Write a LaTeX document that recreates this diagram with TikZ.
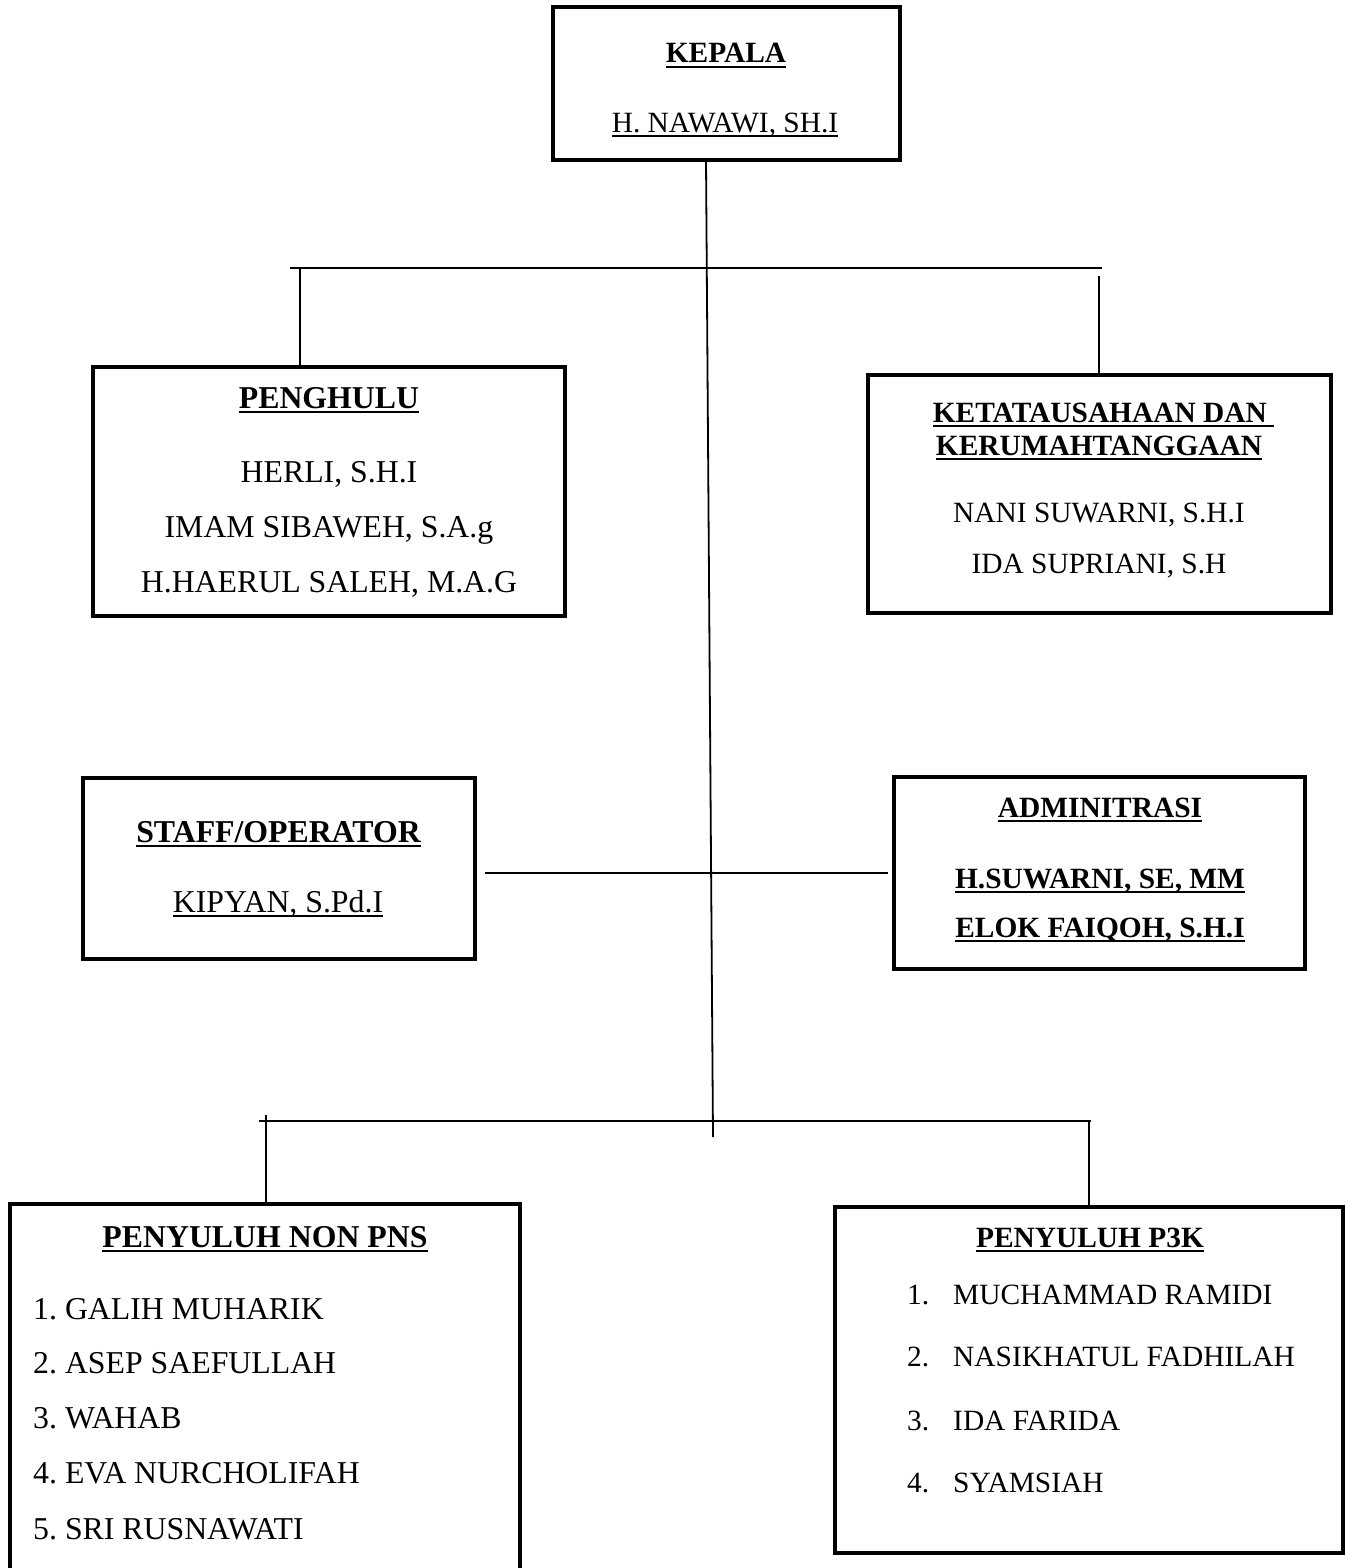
\documentclass[tikz,border=0pt]{standalone}
\usepackage{fontspec}
\setmainfont{Liberation Serif}
\frenchspacing
\newcommand\ulx[2][2pt]{\setbox0\hbox{#2}\rlap{\rule[-5pt]{\wd0}{#1}}\box0}
\begin{document}
\begin{tikzpicture}[x=1pt,y=-1pt,
  box/.style={draw, line width=4.5pt, inner sep=0pt, outer sep=0pt},
  conn/.style={line width=1.8pt},
  fa/.style={font=\fontsize{29.4}{34}\selectfont, inner sep=0pt, anchor=base},
  fb/.style={font=\fontsize{31.8}{38}\selectfont, inner sep=0pt, anchor=base},
  lw/.style={anchor=base west}]
\useasboundingbox[fill=white] (0,0) rectangle (1345,1568);

% boxes
\node[box, minimum width=347, minimum height=153] (kepala) at (726.5,83.5) {};
\node[box, minimum width=472, minimum height=249] (penghulu) at (329,491.5) {};
\node[box, minimum width=463, minimum height=238] (keta) at (1099.5,494) {};
\node[box, minimum width=392, minimum height=181] (staff) at (279,868.5) {};
\node[box, minimum width=411, minimum height=192] (admin) at (1099.5,873) {};
\node[box, minimum width=510, minimum height=416] (nonpns) at (265,1412) {};
\node[box, minimum width=508, minimum height=346] (p3k) at (1089,1380) {};

% junction coordinates
\coordinate (k0) at (706,160);
\coordinate (mainBot) at (713,1137);
\coordinate (topL) at (290,268);
\coordinate (topR) at (1102,268);
\coordinate (pj) at (300,268);
\coordinate (kj) at (1099,276);
\coordinate (sj) at (485,873);
\coordinate (aj) at (888,873);
\coordinate (bL) at (259,1121);
\coordinate (bR) at (1091,1121);
\coordinate (nj) at (266,1115);
\coordinate (qj) at (1089,1121);

% connectors
\draw[conn] (k0) -- (mainBot);
\draw[conn] (topL) -- (topR);
\draw[conn] (pj) -- (pj |- penghulu.north);
\draw[conn] (kj) -- (kj |- keta.north);
\draw[conn] (sj) -- (aj);
\draw[conn] (bL) -- (bR);
\draw[conn] (nj) -- (nj |- nonpns.north);
\draw[conn] (qj) -- (qj |- p3k.north);

% texts
\node[fa] (kepT) at (726,63) {\bfseries\ulx[2.4pt]{KEPALA}};
\node[fa] (kepN) at (725,132) {\ulx{H. NAWAWI, SH.I}};

\node[fb] (penT) at (329,408) {\bfseries\ulx[2.4pt]{PENGHULU}};
\node[fb] (pen1) at (329,482) {HERLI, S.H.I};
\node[fb] (pen2) at (329,537) {IMAM SIBAWEH, S.A.g};
\node[fb] (pen3) at (329,592) {H.HAERUL SALEH, M.A.G};

\node[fa] (ketT1) at (1103.5,422) {\bfseries\ulx[2.4pt]{KETATAUSAHAAN DAN\ }};
\node[fa] (ketT2) at (1099,455) {\bfseries\ulx[2.4pt]{KERUMAHTANGGAAN}};
\node[fa] (ket1) at (1099,522) {NANI SUWARNI, S.H.I};
\node[fa] (ket2) at (1099,573) {IDA SUPRIANI, S.H};

\node[fb] (staT) at (278.5,842) {\bfseries\ulx[2.4pt]{STAFF/OPERATOR}};
\node[fb] (sta1) at (278,912) {\ulx{KIPYAN, S.Pd.I}};

\node[fa] (admT) at (1100,817) {\bfseries\ulx[2.4pt]{ADMINITRASI}};
\node[fa] (adm1) at (1100,888) {\bfseries\ulx[2.4pt]{H.SUWARNI, SE, MM}};
\node[fa] (adm2) at (1100,937) {\bfseries\ulx[2.4pt]{ELOK FAIQOH, S.H.I}};

\node[fb] (nonT) at (265,1247) {\bfseries\ulx[2.4pt]{PENYULUH NON PNS}};
\node[fb,lw] (non1) at (33,1319) {1. GALIH MUHARIK};
\node[fb,lw] (non2) at (33,1373) {2. ASEP SAEFULLAH};
\node[fb,lw] (non3) at (33,1428) {3. WAHAB};
\node[fb,lw] (non4) at (33,1483) {4. EVA NURCHOLIFAH};
\node[fb,lw] (non5) at (33,1539) {5. SRI RUSNAWATI};

\node[fa] (p3T) at (1090,1247) {\bfseries\ulx[2.4pt]{PENYULUH P3K}};
\node[fa,lw] (p3n1) at (907,1304) {1.};
\node[fa,lw] (p3a1) at (953,1304) {MUCHAMMAD RAMIDI};
\node[fa,lw] (p3n2) at (907,1366) {2.};
\node[fa,lw] (p3a2) at (953,1366) {NASIKHATUL FADHILAH};
\node[fa,lw] (p3n3) at (907,1430) {3.};
\node[fa,lw] (p3a3) at (953,1430) {IDA FARIDA};
\node[fa,lw] (p3n4) at (907,1492) {4.};
\node[fa,lw] (p3a4) at (953,1492) {SYAMSIAH};
\end{tikzpicture}
\end{document}
